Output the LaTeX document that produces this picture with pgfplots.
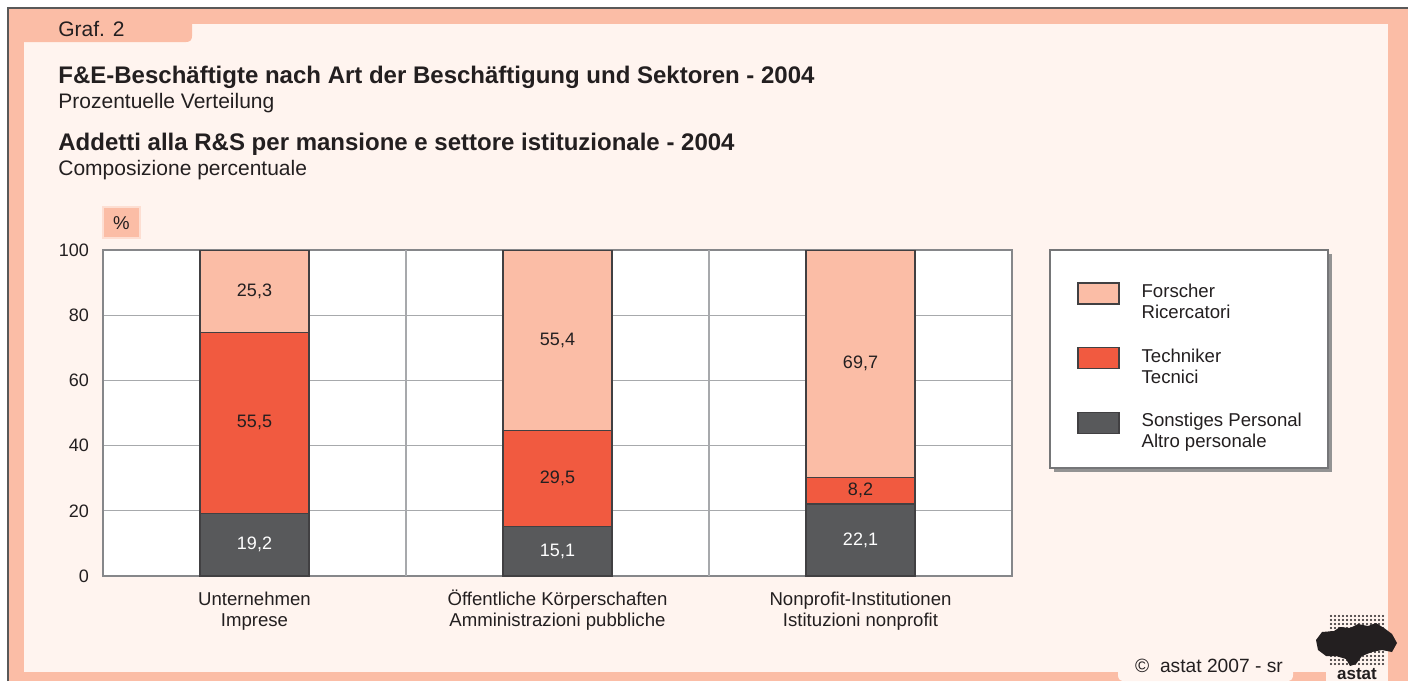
\documentclass[border=0pt]{standalone}
\usepackage{pgfplots}
\pgfplotsset{compat=1.18}
\usepackage{fontspec}
\setmainfont{Liberation Sans}
\usetikzlibrary{shadows}
\definecolor{salmon}{HTML}{FBBDA6}
\definecolor{panel}{HTML}{FFF4EF}
\definecolor{tred}{HTML}{F15A40}
\definecolor{dgray}{HTML}{58595B}
\definecolor{gridc}{HTML}{A7A9AC}
\definecolor{txt}{HTML}{231F20}
\definecolor{edge}{HTML}{414042}
\pgfplotsset{
  mylegend/.style={legend image code/.code={\draw[##1, draw=edge, line width=0.6pt] (0pt,-0.5pt) rectangle (20.5pt,10pt);}},
  common/.style={at={(51.5pt,-288pt)}, anchor=south west, scale only axis,
    width=454.5pt, height=163pt, xmin=-0.5, xmax=2.5, ymin=0, ymax=100},
}
\newcommand{\tl}{\rule{0pt}{9pt}}
\begin{document}
\begin{tikzpicture}[x=0.5pt,y=-0.5pt]
\path[use as bounding box] (0,0) rectangle (1408,681);
\fill[white] (0,0) rectangle (1408,681);
\fill[salmon] (8,8) rectangle (1408,681);
\draw[gray!70!black, line width=0.8pt] (8,681) -- (8,8) -- (1408,8);
\fill[panel] (24,24) rectangle (1388,672);
% tab
\fill[salmon] (24,24) -- (192,24) -- (192,36) .. controls (192,40) and (190,42) .. (186,42) -- (24,42) -- cycle;
% copyright notch
\fill[panel] (1118,660) -- (1118,675) .. controls (1118,679) and (1120,681) .. (1124,681) -- (1287,681) .. controls (1291,681) and (1293,679) .. (1293,675) -- (1293,660) -- cycle;
\node[anchor=base, inner sep=0, text=txt, font=\fontsize{9.6}{11}\selectfont] at (1209,672) {©\ \ astat 2007 - sr};
% logo
\fill[panel] (1326,662) rectangle (1388,681);
\foreach \i in {0,...,13} {\foreach \j in {0,...,12} {\fill[txt] (1331+4*\i,616+4*\j) circle[radius=1.1];}}
\fill[txt] (1316,640) -- (1322,632) -- (1334,631) -- (1340,627) -- (1350,628) -- (1358,624) -- (1368,626) -- (1376,623) -- (1384,628) -- (1392,634) -- (1397,643) -- (1392,652) -- (1382,650) -- (1372,652) -- (1362,656) -- (1356,664) -- (1350,666) -- (1346,659) -- (1336,656) -- (1326,656) -- (1318,650) -- cycle;
\node[anchor=south, inner sep=0, font=\bfseries\fontsize{8.5}{9}\selectfont, text=txt] at (1357,680) {astat};
% titles
\node[anchor=base west, inner sep=0, text=txt, font=\fontsize{10.5}{12}\selectfont] at (58,36) {Graf. 2};
\node[anchor=base west, inner sep=0, text=txt, font=\bfseries\fontsize{12}{14}\selectfont] at (58,83) {F\&E-Beschäftigte nach Art der Beschäftigung und Sektoren - 2004};
\node[anchor=base west, inner sep=0, text=txt, font=\fontsize{10.5}{12}\selectfont] at (58,108) {Prozentuelle Verteilung};
\node[anchor=base west, inner sep=0, text=txt, font=\bfseries\fontsize{12}{14}\selectfont] at (58,150) {Addetti alla R\&S per mansione e settore istituzionale - 2004};
\node[anchor=base west, inner sep=0, text=txt, font=\fontsize{10.5}{12}\selectfont] at (58,175) {Composizione percentuale};
% percent box
\filldraw[fill=salmon, draw=salmon!50!white, line width=0.6pt] (103,207) rectangle (140,238);
\node[text=txt, font=\fontsize{9.3}{11}\selectfont] at (121.5,223) {\%};
% legend box
\draw[gridc!70!black, line width=0.6pt, fill=white, drop shadow={shadow xshift=1.8pt, shadow yshift=-1.8pt, fill=gray!85, opacity=1}] (1050,250) rectangle (1328,468);

\begin{axis}[common,
  ybar stacked, bar width=54.5pt,
  xtick={0,1,2},
  xticklabels={{\tl Unternehmen\\Imprese},{\tl Öffentliche Körperschaften\\Amministrazioni pubbliche},{\tl Nonprofit-Institutionen\\Istituzioni nonprofit}},
  xticklabel style={align=center, font=\fontsize{9.3}{10.5}\selectfont, text=txt, yshift=-2.2pt},
  ytick={0,20,40,60,80,100},
  yticklabel style={font=\fontsize{9}{11}\selectfont, text=txt, xshift=-3.5pt, /pgf/number format/assume math mode=true},
  major tick length=0pt,
  ymajorgrids, grid style={gridc, line width=0.6pt},
  extra x ticks={0.5,1.5}, extra x tick labels={}, extra x tick style={xmajorgrids=true, major tick length=0pt},
  axis line style={gridc!80!black, line width=0.6pt},
  axis background/.style={fill=white},
  reverse legend,
  legend style={at={(1.0649,0.914)}, anchor=north west, draw=none, fill=none,
    font=\fontsize{9.3}{10.5}\selectfont, text=txt, row sep=12.6pt, column sep=11pt,
    nodes={inner sep=0pt, align=left}},
  legend cell align=left,
]
\addplot[mylegend, fill=dgray, draw=edge, line width=0.6pt] coordinates {(0,19.2) (1,15.1) (2,22.1)};
\addlegendentry{Sonstiges Personal\\Altro personale}
\addplot[mylegend, fill=tred, draw=edge, line width=0.6pt] coordinates {(0,55.5) (1,29.5) (2,8.2)};
\addlegendentry{Techniker\\Tecnici}
\addplot[mylegend, fill=salmon, draw=edge, line width=0.6pt] coordinates {(0,25.3) (1,55.4) (2,69.7)};
\addlegendentry{Forscher\\Ricercatori}
\end{axis}

\begin{axis}[common, hide axis]
\addplot[draw=none, nodes near coords, point meta=explicit symbolic,
  every node near coord/.append style={anchor=center, font=\fontsize{9}{11}\selectfont, text=txt}]
  coordinates {(0,87.35) [25,3] (0,46.95) [55,5] (1,72.3) [55,4] (1,29.85) [29,5] (2,65.15) [69,7] (2,26.2) [8,2]};
\addplot[draw=none, nodes near coords, point meta=explicit symbolic,
  every node near coord/.append style={anchor=center, font=\fontsize{9}{11}\selectfont, text=white}]
  coordinates {(0,9.6) [19,2] (1,7.55) [15,1] (2,11.05) [22,1]};
\end{axis}
\end{tikzpicture}
\end{document}
